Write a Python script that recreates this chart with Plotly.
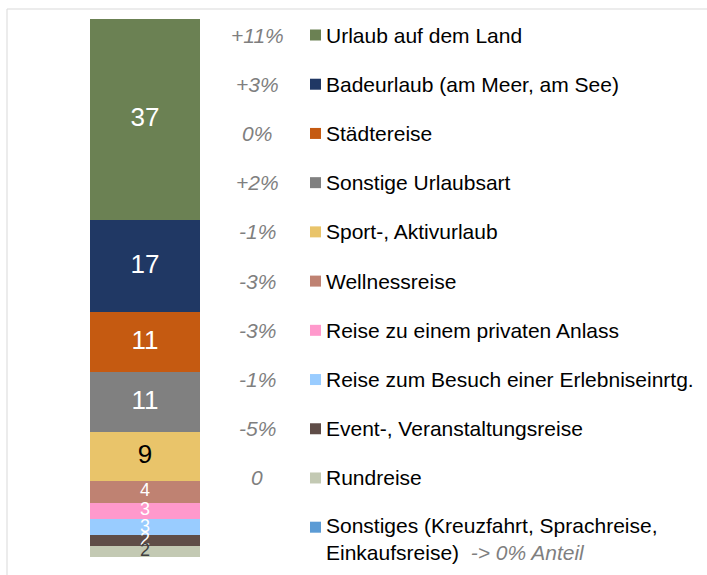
import plotly.graph_objects as go

# Data (top to bottom as in the legend)
categories = [
    "Urlaub auf dem Land",
    "Badeurlaub (am Meer, am See)",
    "Städtereise",
    "Sonstige Urlaubsart",
    "Sport-, Aktivurlaub",
    "Wellnessreise",
    "Reise zu einem privaten Anlass",
    "Reise zum Besuch einer Erlebniseinrtg.",
    "Event-, Veranstaltungsreise",
    "Rundreise",
    "Sonstiges (Kreuzfahrt, Sprachreise,<br>Einkaufsreise)",
]
shares = [37, 17, 11, 11, 9, 4, 3, 3, 2, 2, 0]
changes = ["+11%", "+3%", "0%", "+2%", "-1%", "-3%", "-3%", "-1%", "-5%", "0", ""]
note_last = "-&gt; 0% Anteil"

colors = ["#6B8153", "#203864", "#C55A11", "#808080", "#E9C46A", "#BF8272",
          "#FF99CC", "#99CCFF", "#5F4D48", "#C3C9B3", "#5B9BD5"]
label_colors = ["white", "white", "white", "white", "black", "white",
                "white", "white", "white", "#404040", "white"]
label_sizes = [26, 26, 26, 26, 26, 18, 18, 18, 18, 18, 18]

W, H = 707, 575
FAM = "Arial, Liberation Sans, sans-serif"
fig = go.Figure()

# stacked bar: bottom segment first
for i in reversed(range(len(categories))):
    fig.add_trace(go.Bar(
        x=[0], y=[shares[i]], name=categories[i],
        marker=dict(color=colors[i], line=dict(width=0)),
        width=1, showlegend=False, hoverinfo="skip",
        xaxis="x", yaxis="y",
    ))

# segment value labels at segment midpoints (from cumulative data)
mids, cum = {}, 0
for i in reversed(range(len(categories))):
    mids[i] = cum + shares[i] / 2
    cum += shares[i]
lab_idx = [i for i in range(len(categories)) if shares[i] > 0]
fig.add_trace(go.Scatter(
    x=[0] * len(lab_idx), y=[mids[i] for i in lab_idx],
    mode="text", text=[str(shares[i]) for i in lab_idx],
    textposition="middle center",
    textfont=dict(family=FAM, size=[label_sizes[i] for i in lab_idx],
                  color=[label_colors[i] for i in lab_idx]),
    xaxis="x", yaxis="y", showlegend=False, hoverinfo="skip", cliponaxis=False,
))

# custom legend markers
rows = list(range(len(categories)))
fig.add_trace(go.Scatter(
    x=[315.5] * len(rows), y=rows, mode="markers",
    marker=dict(symbol="square", size=11, color=colors, line=dict(width=0)),
    xaxis="x2", yaxis="y2", showlegend=False, hoverinfo="skip",
))

font = dict(family=FAM, size=21, color="black")
annotations = []
for i, cat in enumerate(categories):
    txt = cat
    ysh = 0
    if i == len(categories) - 1:
        txt = cat + "  <i><span style='color:#7F7F7F'>" + note_last + "</span></i>"
        ysh = -12
    annotations.append(dict(
        x=324, y=i, xref="x2", yref="y2", text=txt, showarrow=False,
        xanchor="left", yanchor="middle", align="left", font=font, yshift=ysh,
    ))
    if changes[i]:
        annotations.append(dict(
            x=257, y=i, xref="x2", yref="y2", text="<i>" + changes[i] + "</i>",
            showarrow=False, xanchor="center", yanchor="middle",
            font=dict(family=FAM, size=21, color="#7F7F7F"),
        ))

top, bottom = 19, 18
plot_h = H - top - bottom
fig.update_layout(
    width=W, height=H,
    margin=dict(l=0, r=0, t=top, b=bottom),
    paper_bgcolor="white", plot_bgcolor="rgba(0,0,0,0)",
    barmode="stack", bargap=0,
    xaxis=dict(domain=[90 / W, 200 / W], range=[-0.5, 0.5], visible=False, fixedrange=True),
    yaxis=dict(range=[0, sum(shares)], visible=False, fixedrange=True),
    xaxis2=dict(domain=[0, 1], range=[0, W], visible=False, anchor="y2", fixedrange=True),
    yaxis2=dict(domain=[0, 1], range=[-0.325 + plot_h / 49.22, -0.325], visible=False,
                anchor="x2", fixedrange=True),
    annotations=annotations,
    shapes=[dict(type="rect", xref="paper", yref="paper",
                 x0=7 / W, x1=1.05, y0=-0.1, y1=1 + 10 / plot_h,
                 line=dict(color="#D9D9D9", width=1), layer="below")],
    showlegend=False,
)

fig.write_html("out.html", config={"displayModeBar": False},
               post_script="document.body.style.margin='0';document.body.style.overflow='hidden';")
